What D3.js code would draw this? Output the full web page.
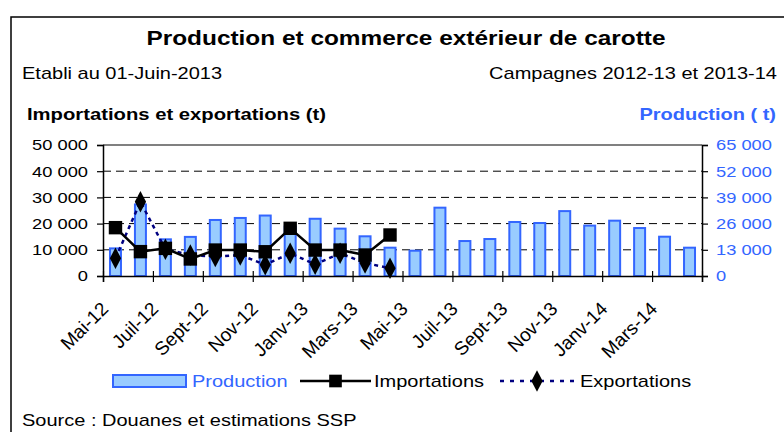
<!DOCTYPE html>
<html>
<head>
<meta charset="utf-8">
<script src="https://cdn.jsdelivr.net/npm/d3@7"></script>
<style>
body { margin: 0; background: #fff; }
svg { display: block; font-family: "Liberation Sans", Arial, sans-serif; }
</style>
</head>
<body>
<div id="chart"></div>
<script>
// mois de la campagne (Mai-12 -> Avr-14)
var mois = ["Mai-12","Juin-12","Juil-12","Août-12","Sept-12","Oct-12","Nov-12","Déc-12",
	"Janv-13","Févr-13","Mars-13","Avr-13","Mai-13","Juin-13","Juil-13","Août-13",
	"Sept-13","Oct-13","Nov-13","Déc-13","Janv-14","Févr-14","Mars-14","Avr-14"];

// production (t), axe de droite
var production = [13700, 35500, 18200, 19400, 27800, 28800, 30000, 24500, 28400, 23500, 19700, 14050,
	12550, 33900, 17350, 18350, 26800, 26300, 32200, 25000, 27450, 23800, 19500, 14050];

// commerce extérieur (t), axe de gauche, connu jusqu'à Avr-13
var importations = [18450, 9300, 10550, 6500, 9900, 9900, 9250, 18200, 9900, 9900, 8000, 15650];
var exportations = [6750, 28350, 10200, 8000, 7400, 8000, 4300, 8650, 4450, 8650, 5000, 2950];

var ticksGauche = [0, 10000, 20000, 30000, 40000, 50000];
var ticksDroite = [0, 13000, 26000, 39000, 52000, 65000];

var W = 784, H = 432;
var SX = 1.22; // texte un peu étiré, comme dans le graphique d'origine
var bleu = "#3366FF", bleuClair = "#99CCFF", marine = "#000080";

var margin = {top: 145, right: 82, bottom: 156, left: 103};
var width = W - margin.left - margin.right,
	height = H - margin.top - margin.bottom;

var svg = d3.select("#chart")
	.append("svg")
		.attr("width", W)
		.attr("height", H);

// cadre
svg.append("rect")
	.attr("x", 11).attr("y", 17)
	.attr("width", 820).attr("height", 460)
	.attr("fill", "none")
	.attr("stroke", "#000")
	.attr("stroke-width", 1.5);

function txt(x, y, s, size, opts) {
	opts = opts || {};
	return svg.append("text")
		.attr("transform", `translate(${x},${y}) scale(${SX},1)`)
		.attr("text-anchor", opts.anchor || "start")
		.style("font-size", size + "px")
		.style("font-weight", opts.bold ? "bold" : "normal")
		.attr("fill", opts.color || "#000")
		.text(s);
}

txt(406, 45, "Production et commerce extérieur de carotte", 20, {anchor: "middle", bold: true});
txt(22, 79, "Etabli au 01-Juin-2013", 16.4);
txt(777, 79, "Campagnes 2012-13 et 2013-14", 16.4, {anchor: "end"});
txt(27, 120, "Importations et exportations (t)", 16.6, {bold: true});
txt(776, 120, "Production ( t)", 16.4, {anchor: "end", bold: true, color: bleu});
txt(22, 426, "Source : Douanes et estimations SSP", 16.4);

var g = svg.append("g")
	.attr("transform", `translate(${margin.left},${margin.top})`);

var x = d3.scaleBand()
	.domain(mois)
	.range([0, width])
	.paddingInner(0.56)
	.paddingOuter(0.28);

// positions des graduations (entre les mois)
var xi = d3.scaleLinear()
	.domain([0, mois.length])
	.range([0, width]);

var yL = d3.scaleLinear()
	.domain([0, 50000])
	.range([height, 0]);

var yR = d3.scaleLinear()
	.domain([0, 65000])
	.range([height, 0]);

var fmt = function(v) { return d3.format(",")(v).replace(/,/g, " "); };

// quadrillage
g.append("g")
	.selectAll("line")
	.data(ticksGauche.filter(function(d) { return d > 0 && d < 50000; }))
	.join("line")
		.attr("x1", 0).attr("x2", width)
		.attr("y1", function(d) { return yL(d); })
		.attr("y2", function(d) { return yL(d); })
		.attr("stroke", "#000")
		.attr("stroke-width", 1)
		.attr("stroke-dasharray", "8,5");

g.append("line")
	.attr("x1", 0).attr("x2", width)
	.attr("y1", 0).attr("y2", 0)
	.attr("stroke", "#808080")
	.attr("stroke-width", 2);

// barres production
g.append("g")
	.selectAll("rect")
	.data(production)
	.join("rect")
		.attr("x", function(d, i) { return x(mois[i]); })
		.attr("y", function(d) { return yR(d); })
		.attr("width", x.bandwidth())
		.attr("height", function(d) { return height - yR(d); })
		.attr("fill", bleuClair)
		.attr("stroke", bleu)
		.attr("stroke-width", 2);

// axes
var axL = g.append("g")
	.call(d3.axisLeft(yL).tickValues(ticksGauche).tickFormat(fmt).tickSizeOuter(0).tickSize(6).tickPadding(9));
var axR = g.append("g")
	.attr("transform", `translate(${width},0)`)
	.call(d3.axisRight(yR).tickValues(ticksDroite).tickFormat(fmt).tickSizeOuter(0).tickSize(6).tickPadding(8));
var axB = g.append("g")
	.attr("transform", `translate(0,${height})`)
	.call(d3.axisBottom(xi)
		.tickValues(d3.range(0, mois.length + 1, 2))
		.tickFormat(function(i) { return i < mois.length ? mois[i] : ""; })
		.tickSizeOuter(0).tickSize(6));

[axL, axR, axB].forEach(function(ax) {
	ax.select(".domain").attr("stroke", "#000").attr("stroke-width", 1.5);
	ax.selectAll(".tick line").attr("stroke", "#000").attr("stroke-width", 1.2);
	ax.selectAll("text").style("font-family", "\"Liberation Sans\", Arial, sans-serif");
});

axL.selectAll(".tick text")
	.style("font-size", "15px")
	.attr("fill", "#000")
	.attr("x", -15 / SX)
	.attr("transform", `scale(${SX},1)`);
axR.selectAll(".tick text")
	.style("font-size", "15px")
	.attr("fill", bleu)
	.attr("x", 14 / SX)
	.attr("transform", `scale(${SX},1)`);
axB.selectAll(".tick line").attr("y1", -5).attr("y2", 6);
axB.selectAll(".tick text")
	.style("font-size", "19px")
	.attr("fill", "#000")
	.attr("text-anchor", "end")
	.attr("x", null).attr("y", null).attr("dy", null)
	.attr("transform", "translate(6,34) rotate(-45)");

// courbes
var xc = function(d, i) { return x(mois[i]) + x.bandwidth() / 2; };

g.append("path")
	.datum(exportations)
	.attr("fill", "none")
	.attr("stroke", marine)
	.attr("stroke-width", 2.5)
	.attr("stroke-dasharray", "4,4")
	.attr("d", d3.line().x(xc).y(function(d) { return yL(d); }));

g.append("path")
	.datum(importations)
	.attr("fill", "none")
	.attr("stroke", "#000")
	.attr("stroke-width", 2.5)
	.attr("d", d3.line().x(xc).y(function(d) { return yL(d); }));

var carre = d3.symbol().type(d3.symbolSquare).size(180);
var losange = d3.symbol().type(d3.symbolDiamond).size(110);

g.append("g")
	.selectAll("path")
	.data(importations)
	.join("path")
		.attr("transform", function(d, i) { return `translate(${xc(d, i)},${yL(d)})`; })
		.attr("d", carre)
		.attr("fill", "#000");

g.append("g")
	.selectAll("path")
	.data(exportations)
	.join("path")
		.attr("transform", function(d, i) { return `translate(${xc(d, i)},${yL(d)}) scale(1,1.1)`; })
		.attr("d", losange)
		.attr("fill", "#000");

// légende
var ly = 381;
var leg = svg.append("g");
leg.append("rect")
	.attr("x", 113).attr("y", ly - 6)
	.attr("width", 73).attr("height", 12)
	.attr("fill", bleuClair).attr("stroke", bleu).attr("stroke-width", 2);
txt(192, ly + 6, "Production", 16.4, {color: bleu});
leg.append("line")
	.attr("x1", 300).attr("x2", 371).attr("y1", ly).attr("y2", ly)
	.attr("stroke", "#000").attr("stroke-width", 2.5);
leg.append("path")
	.attr("transform", `translate(335.5,${ly})`)
	.attr("d", d3.symbol().type(d3.symbolSquare).size(160))
	.attr("fill", "#000");
txt(374, ly + 6, "Importations", 16.4);
leg.append("line")
	.attr("x1", 500).attr("x2", 574).attr("y1", ly).attr("y2", ly)
	.attr("stroke", marine).attr("stroke-width", 2.5).attr("stroke-dasharray", "4,6");
leg.append("path")
	.attr("transform", `translate(537,${ly}) scale(1,1.1)`)
	.attr("d", losange)
	.attr("fill", "#000");
txt(580, ly + 6, "Exportations", 16.4);
</script>
</body>
</html>
